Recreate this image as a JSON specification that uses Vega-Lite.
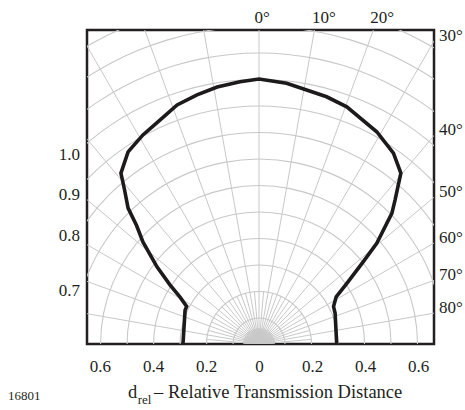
{
  "$schema": "https://vega.github.io/schema/vega-lite/v6.json",
  "width": 347,
  "height": 314,
  "autosize": {"type": "none"},
  "padding": {"left": 87, "top": 30, "right": 31, "bottom": 66},
  "background": "white",
  "config": {
    "view": {"stroke": "#231f20", "strokeWidth": 2.5},
    "text": {"font": "Liberation Serif", "color": "#231f20"}
  },
  "datasets": {
    "rings": [
      {"r": 0.1}, {"r": 0.2}, {"r": 0.3}, {"r": 0.4}, {"r": 0.5}, {"r": 0.6}, {"r": 0.7},
      {"r": 0.8}, {"r": 0.9}, {"r": 1.0}, {"r": 1.1}, {"r": 1.2}, {"r": 1.3}, {"r": 1.4}
    ],
    "rays": [
      {"x0": 0, "y0": 0, "x1": 0, "y1": 1.5},
      {"x0": 0, "y0": 0, "x1": 0.2605, "y1": 1.4772},
      {"x0": 0, "y0": 0, "x1": 0.513, "y1": 1.4095},
      {"x0": 0, "y0": 0, "x1": 0.75, "y1": 1.299},
      {"x0": 0, "y0": 0, "x1": 0.9642, "y1": 1.1491},
      {"x0": 0, "y0": 0, "x1": 1.1491, "y1": 0.9642},
      {"x0": 0, "y0": 0, "x1": 1.299, "y1": 0.75},
      {"x0": 0, "y0": 0, "x1": 1.4095, "y1": 0.513},
      {"x0": 0, "y0": 0, "x1": 1.4772, "y1": 0.2605},
      {"x0": 0, "y0": 0, "x1": -0.2605, "y1": 1.4772},
      {"x0": 0, "y0": 0, "x1": -0.513, "y1": 1.4095},
      {"x0": 0, "y0": 0, "x1": -0.75, "y1": 1.299},
      {"x0": 0, "y0": 0, "x1": -0.9642, "y1": 1.1491},
      {"x0": 0, "y0": 0, "x1": -1.1491, "y1": 0.9642},
      {"x0": 0, "y0": 0, "x1": -1.299, "y1": 0.75},
      {"x0": 0, "y0": 0, "x1": -1.4095, "y1": 0.513},
      {"x0": 0, "y0": 0, "x1": -1.4772, "y1": 0.2605},
      {"x0": 0, "y0": 0, "x1": 0.01743, "y1": 0.19924},
      {"x0": 0, "y0": 0, "x1": 0.05176, "y1": 0.19319},
      {"x0": 0, "y0": 0, "x1": 0.08452, "y1": 0.18126},
      {"x0": 0, "y0": 0, "x1": 0.11472, "y1": 0.16383},
      {"x0": 0, "y0": 0, "x1": 0.14142, "y1": 0.14142},
      {"x0": 0, "y0": 0, "x1": 0.16383, "y1": 0.11472},
      {"x0": 0, "y0": 0, "x1": 0.18126, "y1": 0.08452},
      {"x0": 0, "y0": 0, "x1": 0.19319, "y1": 0.05176},
      {"x0": 0, "y0": 0, "x1": 0.19924, "y1": 0.01743},
      {"x0": 0, "y0": 0, "x1": -0.01743, "y1": 0.19924},
      {"x0": 0, "y0": 0, "x1": -0.05176, "y1": 0.19319},
      {"x0": 0, "y0": 0, "x1": -0.08452, "y1": 0.18126},
      {"x0": 0, "y0": 0, "x1": -0.11472, "y1": 0.16383},
      {"x0": 0, "y0": 0, "x1": -0.14142, "y1": 0.14142},
      {"x0": 0, "y0": 0, "x1": -0.16383, "y1": 0.11472},
      {"x0": 0, "y0": 0, "x1": -0.18126, "y1": 0.08452},
      {"x0": 0, "y0": 0, "x1": -0.19319, "y1": 0.05176},
      {"x0": 0, "y0": 0, "x1": -0.19924, "y1": 0.01743},
      {"x0": 0, "y0": 0, "x1": 0.00262, "y1": 0.05994},
      {"x0": 0, "y0": 0, "x1": 0.00783, "y1": 0.05948},
      {"x0": 0, "y0": 0, "x1": 0.01299, "y1": 0.05858},
      {"x0": 0, "y0": 0, "x1": 0.01804, "y1": 0.05722},
      {"x0": 0, "y0": 0, "x1": 0.02296, "y1": 0.05543},
      {"x0": 0, "y0": 0, "x1": 0.0277, "y1": 0.05322},
      {"x0": 0, "y0": 0, "x1": 0.03224, "y1": 0.0506},
      {"x0": 0, "y0": 0, "x1": 0.03653, "y1": 0.0476},
      {"x0": 0, "y0": 0, "x1": 0.04054, "y1": 0.04424},
      {"x0": 0, "y0": 0, "x1": 0.04424, "y1": 0.04054},
      {"x0": 0, "y0": 0, "x1": 0.0476, "y1": 0.03653},
      {"x0": 0, "y0": 0, "x1": 0.0506, "y1": 0.03224},
      {"x0": 0, "y0": 0, "x1": 0.05322, "y1": 0.0277},
      {"x0": 0, "y0": 0, "x1": 0.05543, "y1": 0.02296},
      {"x0": 0, "y0": 0, "x1": 0.05722, "y1": 0.01804},
      {"x0": 0, "y0": 0, "x1": 0.05858, "y1": 0.01299},
      {"x0": 0, "y0": 0, "x1": 0.05948, "y1": 0.00783},
      {"x0": 0, "y0": 0, "x1": 0.05994, "y1": 0.00262},
      {"x0": 0, "y0": 0, "x1": -0.00262, "y1": 0.05994},
      {"x0": 0, "y0": 0, "x1": -0.00783, "y1": 0.05948},
      {"x0": 0, "y0": 0, "x1": -0.01299, "y1": 0.05858},
      {"x0": 0, "y0": 0, "x1": -0.01804, "y1": 0.05722},
      {"x0": 0, "y0": 0, "x1": -0.02296, "y1": 0.05543},
      {"x0": 0, "y0": 0, "x1": -0.0277, "y1": 0.05322},
      {"x0": 0, "y0": 0, "x1": -0.03224, "y1": 0.0506},
      {"x0": 0, "y0": 0, "x1": -0.03653, "y1": 0.0476},
      {"x0": 0, "y0": 0, "x1": -0.04054, "y1": 0.04424},
      {"x0": 0, "y0": 0, "x1": -0.04424, "y1": 0.04054},
      {"x0": 0, "y0": 0, "x1": -0.0476, "y1": 0.03653},
      {"x0": 0, "y0": 0, "x1": -0.0506, "y1": 0.03224},
      {"x0": 0, "y0": 0, "x1": -0.05322, "y1": 0.0277},
      {"x0": 0, "y0": 0, "x1": -0.05543, "y1": 0.02296},
      {"x0": 0, "y0": 0, "x1": -0.05722, "y1": 0.01804},
      {"x0": 0, "y0": 0, "x1": -0.05858, "y1": 0.01299},
      {"x0": 0, "y0": 0, "x1": -0.05948, "y1": 0.00783},
      {"x0": 0, "y0": 0, "x1": -0.05994, "y1": 0.00262}
    ],
    "curve": [
      {"i": 0, "x": -0.287, "y": 0},
      {"i": 1, "x": -0.283, "y": 0.064},
      {"i": 2, "x": -0.279, "y": 0.128},
      {"i": 3, "x": -0.273, "y": 0.142},
      {"i": 4, "x": -0.298, "y": 0.177},
      {"i": 5, "x": -0.336, "y": 0.223},
      {"i": 6, "x": -0.385, "y": 0.291},
      {"i": 7, "x": -0.438, "y": 0.385},
      {"i": 8, "x": -0.462, "y": 0.447},
      {"i": 9, "x": -0.494, "y": 0.513},
      {"i": 10, "x": -0.508, "y": 0.585},
      {"i": 11, "x": -0.521, "y": 0.645},
      {"i": 12, "x": -0.494, "y": 0.725},
      {"i": 13, "x": -0.438, "y": 0.789},
      {"i": 14, "x": -0.374, "y": 0.845},
      {"i": 15, "x": -0.309, "y": 0.902},
      {"i": 16, "x": -0.234, "y": 0.94},
      {"i": 17, "x": -0.158, "y": 0.97},
      {"i": 18, "x": -0.072, "y": 0.99},
      {"i": 19, "x": 0.0, "y": 1.0},
      {"i": 20, "x": 0.104, "y": 0.984},
      {"i": 21, "x": 0.255, "y": 0.933},
      {"i": 22, "x": 0.331, "y": 0.895},
      {"i": 23, "x": 0.444, "y": 0.801},
      {"i": 24, "x": 0.507, "y": 0.72},
      {"i": 25, "x": 0.535, "y": 0.645},
      {"i": 26, "x": 0.513, "y": 0.543},
      {"i": 27, "x": 0.501, "y": 0.493},
      {"i": 28, "x": 0.444, "y": 0.38},
      {"i": 29, "x": 0.392, "y": 0.309},
      {"i": 30, "x": 0.332, "y": 0.23},
      {"i": 31, "x": 0.291, "y": 0.178},
      {"i": 32, "x": 0.281, "y": 0.141},
      {"i": 33, "x": 0.287, "y": 0.116},
      {"i": 34, "x": 0.293, "y": 0}
    ],
    "leftLabels": [
      {"label": "1.0", "x": -0.675, "y": 0.694},
      {"label": "0.9", "x": -0.675, "y": 0.543},
      {"label": "0.8", "x": -0.675, "y": 0.389},
      {"label": "0.7", "x": -0.675, "y": 0.181}
    ],
    "rightLabels": [
      {"label": "30°", "x": 0.679, "y": 1.143},
      {"label": "40°", "x": 0.679, "y": 0.787},
      {"label": "50°", "x": 0.679, "y": 0.554},
      {"label": "60°", "x": 0.679, "y": 0.381},
      {"label": "70°", "x": 0.679, "y": 0.24},
      {"label": "80°", "x": 0.679, "y": 0.116}
    ],
    "topLabels": [
      {"label": "0°", "x": 0.012, "y": 1.211},
      {"label": "10°", "x": 0.245, "y": 1.211},
      {"label": "20°", "x": 0.464, "y": 1.211}
    ],
    "titleMain": [
      {"label": "d", "x": -0.494, "y": -0.204},
      {"label": "– Relative Transmission Distance", "x": -0.396, "y": -0.204}
    ],
    "titleSub": [
      {"label": "rel", "x": -0.458, "y": -0.228}
    ],
    "code": [
      {"label": "16801", "x": -0.947, "y": -0.211}
    ]
  },
  "encoding": {
    "x": {
      "type": "quantitative",
      "scale": {"domain": [-0.649, 0.66], "nice": false, "zero": false},
      "axis": {
        "values": [-0.6, -0.4, -0.2, 0, 0.2, 0.4, 0.6],
        "labelExpr": "datum.value == 0 ? '0' : format(abs(datum.value), '.1f')",
        "grid": false, "ticks": false, "tickSize": 0, "domain": false, "title": null,
        "labelFont": "Liberation Serif", "labelFontSize": 17, "labelColor": "#231f20",
        "labelPadding": 14, "labelFlush": false
      }
    },
    "y": {
      "type": "quantitative",
      "scale": {"domain": [0, 1.185], "nice": false, "zero": false},
      "axis": null
    }
  },
  "layer": [
    {
      "data": {"name": "rings"},
      "mark": {"type": "arc", "theta": -1.5708, "theta2": 1.5708, "radius2Offset": -1.1, "fill": "#c8c8c8", "clip": true},
      "encoding": {
        "x": {"datum": 0},
        "y": {"datum": 0},
        "radius": {"field": "r", "type": "quantitative", "scale": {"type": "linear", "domain": [0, 1], "range": [0, 265], "zero": true}},
        "radius2": {"field": "r"}
      }
    },
    {
      "data": {"name": "rays"},
      "mark": {"type": "rule", "stroke": "#c8c8c8", "strokeWidth": 1, "clip": true},
      "encoding": {
        "x": {"field": "x0"},
        "y": {"field": "y0"},
        "x2": {"field": "x1"},
        "y2": {"field": "y1"}
      }
    },
    {
      "data": {"name": "curve"},
      "mark": {"type": "line", "stroke": "#1c1a1a", "strokeWidth": 3.6, "clip": true},
      "encoding": {
        "x": {"field": "x"},
        "y": {"field": "y"},
        "order": {"field": "i", "type": "quantitative"}
      }
    },
    {
      "data": {"name": "leftLabels"},
      "mark": {"type": "text", "align": "right", "baseline": "alphabetic", "fontSize": 17},
      "encoding": {"x": {"field": "x"}, "y": {"field": "y"}, "text": {"field": "label"}}
    },
    {
      "data": {"name": "rightLabels"},
      "mark": {"type": "text", "align": "left", "baseline": "alphabetic", "fontSize": 17},
      "encoding": {"x": {"field": "x"}, "y": {"field": "y"}, "text": {"field": "label"}}
    },
    {
      "data": {"name": "topLabels"},
      "mark": {"type": "text", "align": "center", "baseline": "alphabetic", "fontSize": 17},
      "encoding": {"x": {"field": "x"}, "y": {"field": "y"}, "text": {"field": "label"}}
    },
    {
      "data": {"name": "titleMain"},
      "mark": {"type": "text", "align": "left", "baseline": "alphabetic", "fontSize": 18.5},
      "encoding": {"x": {"field": "x"}, "y": {"field": "y"}, "text": {"field": "label"}}
    },
    {
      "data": {"name": "titleSub"},
      "mark": {"type": "text", "align": "left", "baseline": "alphabetic", "fontSize": 13},
      "encoding": {"x": {"field": "x"}, "y": {"field": "y"}, "text": {"field": "label"}}
    },
    {
      "data": {"name": "code"},
      "mark": {"type": "text", "align": "left", "baseline": "alphabetic", "fontSize": 13},
      "encoding": {"x": {"field": "x"}, "y": {"field": "y"}, "text": {"field": "label"}}
    }
  ]
}
